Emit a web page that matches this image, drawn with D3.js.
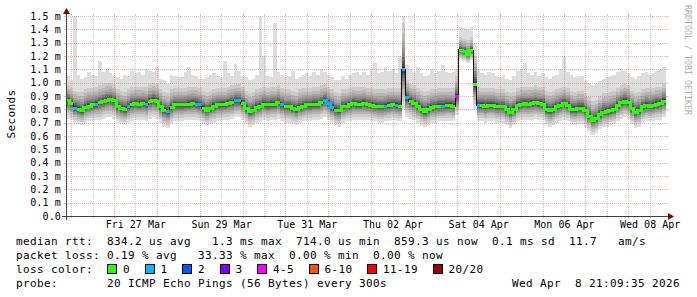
<!DOCTYPE html>
<html><head><meta charset="utf-8">
<script src="https://cdn.jsdelivr.net/npm/d3@7"></script>
<style>
html,body{margin:0;padding:0;background:#fff;}
svg{display:block;}
text{font-family:"DejaVu Sans Mono",monospace;}
</style></head><body>
<svg id="c" width="697" height="297"></svg>
<script>
// ---------------- data ----------------
const startTime = Date.UTC(2026, 2, 25, 21, 9, 35);
const endTime   = Date.UTC(2026, 3, 8, 21, 9, 35);
const stepHours = 2;

// median rtt (ms) per 2h step
const median = [
0.865,0.845,0.81,0.80,0.79,0.815,0.825,0.833,0.838,0.85,0.858,0.87,
0.875,0.865,0.82,0.808,0.80,0.82,0.838,0.845,0.84,0.845,0.838,0.858,
0.87,0.858,0.82,0.795,0.783,0.815,0.833,0.833,0.833,0.833,0.838,0.845,
0.84,0.833,0.808,0.795,0.808,0.825,0.833,0.838,0.838,0.845,0.85,0.865,
0.863,0.845,0.808,0.783,0.795,0.815,0.825,0.838,0.833,0.838,0.838,0.85,
0.833,0.82,0.82,0.808,0.80,0.815,0.825,0.833,0.833,0.838,0.838,0.85,
0.865,0.845,0.815,0.795,0.79,0.82,0.825,0.833,0.845,0.838,0.838,0.845,
0.835,0.83,0.825,0.82,0.82,0.825,0.83,0.835,0.83,0.825,1.10,0.887,
0.86,0.845,0.82,0.80,0.785,0.80,0.815,0.82,0.825,0.825,0.83,0.83,
0.825,0.895,1.245,1.235,1.21,1.24,0.99,0.83,0.83,0.825,0.83,0.83,
0.825,0.82,0.82,0.80,0.78,0.80,0.83,0.84,0.845,0.84,0.845,0.85,
0.845,0.84,0.80,0.79,0.80,0.82,0.83,0.845,0.83,0.80,0.80,0.81,
0.81,0.79,0.75,0.72,0.73,0.76,0.78,0.785,0.79,0.80,0.83,0.85,
0.86,0.85,0.81,0.78,0.79,0.82,0.83,0.825,0.83,0.84,0.845,0.86];

// lost pings (of 20) per step
const lossPings = [
0,0,1,0,0,0,0,0,1,0,0,0,
0,0,0,0,0,1,0,0,0,0,1,0,
0,0,0,0,1,0,0,0,0,0,0,0,
1,1,0,0,0,0,0,0,0,0,0,1,
1,0,0,0,0,0,0,0,0,0,0,0,
1,0,0,0,0,0,0,0,0,0,0,0,
1,1,1,0,0,0,0,0,0,0,0,0,
0,0,0,0,0,1,0,0,1,0,1,1,
0,0,0,0,0,0,0,0,0,1,0,0,
0,4,0,0,0,0,0,1,0,0,0,0,
0,0,0,0,0,0,0,0,0,0,0,0,
0,0,0,0,0,0,0,0,0,0,0,0,
0,0,0,0,0,0,0,0,0,0,0,0,
0,0,0,0,0,0,0,0,0,0,0,0];

// lowest ping (ms)
const pingLow = [
0.73,0.72,0.70,0.69,0.68,0.70,0.71,0.71,0.72,0.72,0.73,0.74,
0.74,0.73,0.70,0.69,0.68,0.70,0.71,0.72,0.72,0.72,0.71,0.73,
0.74,0.73,0.70,0.67,0.66,0.69,0.71,0.71,0.71,0.72,0.72,0.72,
0.72,0.71,0.69,0.68,0.69,0.70,0.71,0.71,0.72,0.72,0.73,0.74,
0.74,0.72,0.69,0.67,0.68,0.70,0.71,0.72,0.71,0.72,0.72,0.73,
0.71,0.70,0.70,0.69,0.68,0.70,0.71,0.71,0.71,0.72,0.72,0.73,
0.74,0.72,0.70,0.68,0.67,0.70,0.71,0.71,0.72,0.72,0.72,0.72,
0.72,0.71,0.71,0.70,0.70,0.71,0.71,0.72,0.71,0.71,0.80,0.74,
0.73,0.72,0.70,0.68,0.67,0.68,0.70,0.70,0.71,0.71,0.71,0.71,
0.71,0.76,1.17,1.16,1.15,1.17,0.80,0.71,0.71,0.70,0.71,0.71,
0.70,0.70,0.70,0.68,0.66,0.68,0.71,0.72,0.72,0.72,0.72,0.73,
0.72,0.72,0.69,0.67,0.68,0.70,0.71,0.72,0.71,0.69,0.68,0.69,
0.69,0.67,0.64,0.61,0.62,0.65,0.67,0.67,0.68,0.69,0.71,0.73,
0.74,0.73,0.69,0.66,0.67,0.70,0.71,0.71,0.71,0.72,0.72,0.74];

// second highest ping (ms)
const pingHigh = [
0.98,0.96,0.94,0.93,0.93,0.95,0.96,0.96,0.97,0.98,0.99,1.00,
1.00,0.99,0.95,0.94,0.93,0.95,0.97,0.97,0.97,0.97,0.97,0.99,
1.00,0.99,0.95,0.93,0.92,0.95,0.96,0.96,0.96,0.96,0.97,0.97,
0.97,0.96,0.94,0.93,0.94,0.95,0.96,0.96,0.96,0.97,0.98,0.99,
0.99,0.97,0.94,0.92,0.93,0.95,0.96,0.97,0.96,0.97,0.97,0.98,
0.96,0.95,0.95,0.94,0.93,0.95,0.96,0.96,0.96,0.97,0.97,0.98,
0.99,0.97,0.95,0.93,0.92,0.95,0.95,0.96,0.97,0.97,0.97,0.97,
0.96,0.96,0.95,0.95,0.95,0.95,0.96,0.96,0.96,0.96,1.45,1.02,
0.99,0.98,0.96,0.94,0.93,0.94,0.95,0.95,0.96,0.96,0.96,0.96,
0.96,1.05,1.34,1.33,1.32,1.34,1.20,0.97,0.96,0.96,0.96,0.96,
0.95,0.95,0.95,0.93,0.92,0.93,0.96,0.97,0.97,0.97,0.97,0.98,
0.97,0.97,0.94,0.93,0.94,0.95,0.96,0.97,0.96,0.94,0.93,0.94,
0.94,0.92,0.89,0.86,0.87,0.90,0.92,0.92,0.93,0.94,0.96,0.98,
0.99,0.98,0.94,0.92,0.93,0.95,0.96,0.96,0.96,0.97,0.97,0.99];

// highest ping (ms)
const pingMax = [
1.05,1.02,1.50,1.06,1.03,1.04,1.08,1.06,1.05,1.16,1.08,1.10,
1.07,1.05,1.04,1.03,1.06,1.05,1.09,1.07,1.08,1.06,1.10,1.09,
1.08,1.12,1.03,1.02,0.99,1.06,1.05,1.04,1.04,1.08,1.12,1.06,
1.05,1.03,1.03,1.04,1.06,1.07,1.05,1.04,1.16,1.07,1.05,1.14,
1.09,1.05,1.04,1.02,1.03,1.06,1.50,1.20,1.05,1.04,1.45,1.08,
1.06,1.04,1.05,1.09,1.03,1.04,1.06,1.07,1.05,1.08,1.06,1.10,
1.08,1.06,1.04,1.02,1.02,1.05,1.03,1.06,1.07,1.08,1.06,1.08,
1.06,1.10,1.15,1.07,1.08,1.12,1.09,1.10,1.07,1.20,1.50,1.13,
1.10,1.08,1.12,1.07,1.05,1.06,1.10,1.07,1.09,1.13,1.08,1.07,
1.08,1.10,1.42,1.41,1.40,1.42,1.30,1.10,1.07,1.06,1.08,1.07,
1.05,1.04,1.06,1.03,1.02,1.05,1.09,1.10,1.15,1.07,1.06,1.08,
1.05,1.07,1.04,1.03,1.05,1.06,1.10,1.20,1.08,1.06,1.04,1.05,
1.05,1.02,1.00,0.98,0.99,1.01,1.03,1.04,1.05,1.06,1.08,1.10,
1.09,1.07,1.04,1.03,1.05,1.07,1.08,1.06,1.07,1.09,1.10,1.12];

const yTicks = [0,0.1,0.2,0.3,0.4,0.5,0.6,0.7,0.8,0.9,1.0,1.1,1.2,1.3,1.4,1.5];
const yTickLabels = ["0.0","0.1 m","0.2 m","0.3 m","0.4 m","0.5 m","0.6 m","0.7 m","0.8 m","0.9 m","1.0 m","1.1 m","1.2 m","1.3 m","1.4 m","1.5 m"];
const xLabelDays = ["2026-03-27","2026-03-29","2026-03-31","2026-04-02","2026-04-04","2026-04-06","2026-04-08"];
const xTickLabels = ["Fri 27 Mar","Sun 29 Mar","Tue 31 Mar","Thu 02 Apr","Sat 04 Apr","Mon 06 Apr","Wed 08 Apr"];

const lossLabels = ["0","1","2","3","4-5","6-10","11-19","20/20"];
const lossUpper  = [0,1,2,3,5,10,19,20];
const lossColors = ["#26ff00","#00b8ff","#0059ff","#7e00ff","#ff00ff","#ff5500","#ff0000","#a10000"];

const legendLines = [
  "median rtt:  834.2 us avg   1.3 ms max  714.0 us min  859.3 us now  0.1 ms sd  11.7   am/s",
  "packet loss: 0.19 % avg   33.33 % max  0.00 % min  0.00 % now"
];
const probeText = "20 ICMP Echo Pings (56 Bytes) every 300s";
const dateText = "Wed Apr  8 21:09:35 2026";

// ---------------- drawing ----------------
const plot = {left:66, top:16, width:600, height:200};
const svg = d3.select("#c");
const x = d3.scaleUtc().domain([startTime, endTime]).range([plot.left, plot.left + plot.width]);
const y = d3.scaleLinear().domain([0, 1.5]).range([plot.top + plot.height, plot.top]);
const stepMs = stepHours * 3600e3;

const data = median.map((m, i) => ({t: startTime + i*stepMs, m, lo: pingLow[i], hi: pingHigh[i], mx: pingMax[i], loss: lossPings[i]}));
const ext = data.concat([Object.assign({}, data[data.length-1], {t: endTime})]);

// smoke: 10 nested bands, light outside to dark inside
const lowerFrac = [1,0.8,0.63,0.5,0.39,0.3,0.22,0.15,0.09,0.04];
const upperFrac = [null,1,0.78,0.6,0.46,0.35,0.26,0.18,0.11,0.05];
const smoke = svg.append("g").attr("shape-rendering","crispEdges");
for (let k = 0; k < 10; k++) {
  const g = Math.floor(190/10*(9-k)) + 50;
  const area = d3.area()
    .x(d => x(d.t))
    .y0(d => y(d.m - (d.m - d.lo)*lowerFrac[k]))
    .y1(d => y(k === 0 ? d.mx : d.m + (d.hi - d.m)*upperFrac[k]))
    .curve(d3.curveStepAfter);
  smoke.append("path").datum(ext).attr("d", area).attr("fill", d3.rgb(g,g,g));
}

// grid
const grid = svg.append("g").attr("shape-rendering","crispEdges");
const minorCol = "rgba(140,140,140,0.45)", majorCol = "rgba(235,110,110,0.55)";
const halfDays = d3.utcHour.every(12).range(new Date(startTime), new Date(endTime));
halfDays.forEach(d => {
  const isMajor = d.getUTCHours() === 0;
  const px = Math.round(x(d)) + 0.5;
  const col = isMajor ? majorCol : minorCol;
  grid.append("line").attr("x1",px).attr("x2",px).attr("y1",plot.top+plot.height).attr("y2",plot.top)
    .attr("stroke",col).attr("stroke-dasharray","1,1");
  grid.append("line").attr("x1",px).attr("x2",px).attr("y1",plot.top+plot.height).attr("y2",plot.top+plot.height+2).attr("stroke",col);
  grid.append("line").attr("x1",px).attr("x2",px).attr("y1",plot.top-2).attr("y2",plot.top).attr("stroke",col);
});
yTicks.forEach(v => {
  const py = Math.round(y(v)) + 0.5;
  if (v > 0) grid.append("line").attr("x1",plot.left).attr("x2",plot.left+plot.width).attr("y1",py).attr("y2",py)
    .attr("stroke",majorCol).attr("stroke-dasharray","1,1");
  grid.append("line").attr("x1",plot.left-2).attr("x2",plot.left).attr("y1",py).attr("y2",py).attr("stroke",majorCol);
  grid.append("line").attr("x1",plot.left+plot.width).attr("x2",plot.left+plot.width+2).attr("y1",py).attr("y2",py).attr("stroke",majorCol);
});

// median line: thin dark stairs underneath, coloured 3px stairs per loss run
const colorOf = l => lossColors[lossUpper.findIndex(u => l <= u)];
const stepLine = d3.line().x(d => x(d.t)).y(d => y(d.m)).curve(d3.curveStepAfter);
svg.append("path").datum(ext).attr("d", stepLine).attr("fill","none").attr("stroke","#101010").attr("stroke-width",1.2).attr("shape-rendering","crispEdges");
const runs = [];
data.forEach((d, i) => {
  const c = colorOf(d.loss);
  const prev = i > 0 ? data[i-1] : null;
  const jump = prev && Math.abs(prev.m - d.m) > 0.1;
  if (!runs.length || runs[runs.length-1].c !== c || jump) runs.push({c, pts: []});
  runs[runs.length-1].pts.push(d);
});
runs.forEach(r => {
  const last = r.pts[r.pts.length-1];
  const pts = r.pts.concat([{t: last.t + stepMs, m: last.m}]);
  svg.append("path").datum(pts).attr("d", stepLine).attr("fill","none").attr("stroke", r.c).attr("stroke-width",3).attr("shape-rendering","crispEdges");
});

// axes lines + arrows
const axisCol = "#404040", arrowCol = "#800000";
const yo = plot.top + plot.height, xo = plot.left;
svg.append("line").attr("x1",xo-4).attr("x2",xo+plot.width+4).attr("y1",yo+0.5).attr("y2",yo+0.5).attr("stroke",axisCol).attr("shape-rendering","crispEdges");
svg.append("line").attr("x1",xo+0.5).attr("x2",xo+0.5).attr("y1",yo+4).attr("y2",plot.top-4).attr("stroke",axisCol).attr("shape-rendering","crispEdges");
svg.append("path").attr("d",`M${xo+plot.width+2},${yo-3}L${xo+plot.width+2},${yo+4}L${xo+plot.width+8},${yo+0.5}Z`).attr("fill",arrowCol);
svg.append("path").attr("d",`M${xo-3},${plot.top-2}L${xo+4},${plot.top-2}L${xo+0.5},${plot.top-8}Z`).attr("fill",arrowCol);

// y axis labels
const yAxis = d3.axisLeft(y).tickValues(yTicks).tickFormat((d,i) => yTickLabels[i]).tickSize(0).tickPadding(5);
const ya = svg.append("g").attr("transform",`translate(${plot.left},0)`).call(yAxis);
ya.select(".domain").remove();
ya.selectAll("text").attr("font-family","DejaVu Sans Mono").attr("font-size","10px").attr("fill","#000").style("letter-spacing","0.15px");

// x axis labels
const labelTimes = xLabelDays.map(s => new Date(s + "T12:00:00Z"));
const xAxis = d3.axisBottom(x).tickValues(labelTimes).tickFormat((d,i) => xTickLabels[i]).tickSize(0).tickPadding(5);
const xa = svg.append("g").attr("transform",`translate(0,${yo})`).call(xAxis);
xa.select(".domain").remove();
xa.selectAll("text").attr("font-family","DejaVu Sans Mono").attr("font-size","10px").attr("fill","#000");

// y title
svg.append("text").attr("transform","translate(15,114) rotate(-90)").attr("text-anchor","middle")
  .attr("font-size","11px").style("letter-spacing","0.38px").attr("fill","#000").text("Seconds");

// watermark
svg.append("text").attr("transform","translate(685,5) rotate(90)").attr("text-anchor","start")
  .attr("font-size","8.3px").attr("fill","#b0b0b0").text("RRDTOOL / TOBI OETIKER");

// legend
const lg = svg.append("g").attr("font-size","11px").attr("fill","#000");
const lgText = (tx, ty, s, anchor) => lg.append("text").attr("x",tx).attr("y",ty).attr("text-anchor",anchor||"start")
  .attr("xml:space","preserve").style("white-space","pre").style("letter-spacing","0.378px").text(s);
const lineY = [245, 259, 273, 287];
lgText(16, lineY[0], legendLines[0]);
lgText(16, lineY[1], legendLines[1]);
lgText(16, lineY[2], "loss color:");
let bx = 107;
lossLabels.forEach((lab, i) => {
  lg.append("rect").attr("x", bx+0.5).attr("y", lineY[2]-8.5).attr("width",9).attr("height",9)
    .attr("fill", lossColors[i]).attr("stroke","#000").attr("stroke-width",1).attr("shape-rendering","crispEdges");
  lgText(bx + 16, lineY[2], lab);
  bx += 16 + lab.length*7 + 14.5;
});
lgText(16, lineY[3], "probe:");
lgText(107, lineY[3], probeText);
lgText(680, lineY[3], dateText, "end");
</script>
</body></html>
